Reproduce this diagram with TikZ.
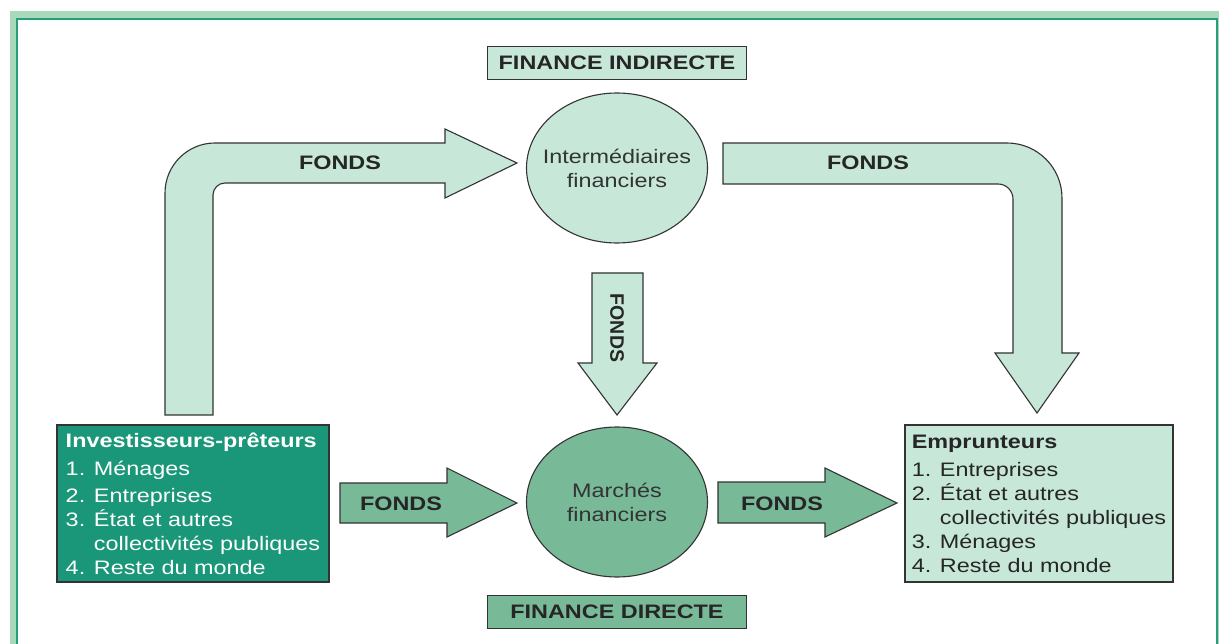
\documentclass[tikz,border=0pt]{standalone}
\usepackage{fontspec}
\setmainfont{Liberation Sans}[FakeStretch=1.2]
\newfontfamily\uprightsans{Liberation Sans}
\usetikzlibrary{shapes.geometric}

\definecolor{palegreen}{HTML}{C7E8D8}
\definecolor{midgreen}{HTML}{78B998}
\definecolor{deepteal}{HTML}{1A9678}
\definecolor{framelight}{HTML}{A9D8BB}
\definecolor{framedark}{HTML}{2A9D7C}
\definecolor{inkgray}{HTML}{333333}

\begin{document}
\begin{tikzpicture}[x=1pt,y=-1pt,
  every node/.style={font=\fontsize{19.5}{24}\selectfont},
  outline/.style={draw=inkgray,line width=1.1pt,line join=miter},
  fondslabel/.style={font=\fontsize{19.5}{24}\selectfont\bfseries,text=black!85},
  titlebox/.style={outline,minimum width=259,minimum height=33,inner sep=0,
    font=\fontsize{19.5}{24}\selectfont\bfseries,text=black!85},
  market/.style={ellipse,outline,minimum width=181,minimum height=150,
    inner sep=0},
  markettext/.style={align=center,text=inkgray},
  agentbox/.style={outline,align=left,minimum height=157,inner sep=0}]
  \useasboundingbox (0,0) rectangle (1219,644);
  \clip (0,0) rectangle (1219,644);
  % cadre
  \fill[framelight] (10,11) rectangle (1230,700);
  \fill[white] (18,20.5) rectangle (1215.5,700);
  \draw[framedark,line width=2] (17,19.5) rectangle (1216.5,700);

  % finance indirecte
  \node[titlebox,fill=palegreen] (indirecte) at (617,63) {FINANCE INDIRECTE};
  \node[market,fill=palegreen] (interm) at (617,168) {};
  \node[markettext] (intermtext) at (interm) {Intermédiaires\\financiers};
  \draw[outline,fill=palegreen] (165,415) -- (165,193) arc (180:270:50)
    -- (445,143) -- (445,129) -- (517,163) -- (445,198) -- (445,183)
    -- (225,183) arc (270:180:12) -- (213,415) -- cycle;
  \node[fondslabel] (fondsA) at (340,163) {FONDS};
  \draw[outline,fill=palegreen] (723,143) -- (1007,143) arc (270:360:55)
    -- (1062,353) -- (1079,353) -- (1037,413) -- (995,353) -- (1013,353)
    -- (1013,199) arc (0:-90:15) -- (723,184) -- cycle;
  \node[fondslabel] (fondsB) at (868,163) {FONDS};
  \draw[outline,fill=palegreen] (592,273) -- (643,273) -- (643,363)
    -- (657,363) -- (617,415) -- (578,363) -- (592,363) -- cycle;
  \node[fondslabel,font=\fontsize{19.5}{24}\uprightsans\bfseries,rotate=-90]
    (fondsC) at (617,328) {FONDS};

  % finance directe
  \node[market,fill=midgreen] (marches) at (617,502) {};
  \node[markettext] (marchestext) at (marches) {Marchés\\financiers};
  \node[titlebox,fill=midgreen] (directe) at (617,612) {FINANCE DIRECTE};
  \draw[outline,fill=midgreen] (340,483) -- (447,483) -- (447,468)
    -- (517,503) -- (447,537) -- (447,523) -- (340,523) -- cycle;
  \node[fondslabel] (fondsD) at (401,504) {FONDS};
  \draw[outline,fill=midgreen] (718,482) -- (825,482) -- (825,468)
    -- (897,503) -- (825,537) -- (825,523) -- (718,523) -- cycle;
  \node[fondslabel] (fondsE) at (782,504) {FONDS};

  % agents
  \node[agentbox,fill=deepteal,text=white,minimum width=272]
    (preteurs) at (193,503.5)
    {\textbf{Investisseurs-prêteurs}\\[4pt]1. Ménages\\[3pt]2. Entreprises\\
     3. État et autres\\\phantom{3. }collectivités publiques\\4. Reste du monde};
  \node[agentbox,fill=palegreen,text=black!85,minimum width=268]
    (emprunteurs) at (1039,503.5)
    {\textbf{Emprunteurs}\\[4pt]1. Entreprises\\2. État et autres\\
     \phantom{2. }collectivités publiques\\3. Ménages\\4. Reste du monde};
\end{tikzpicture}
\end{document}
